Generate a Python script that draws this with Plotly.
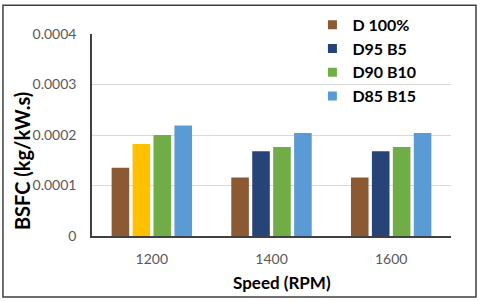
import plotly.graph_objects as go

speeds = ["1200", "1400", "1600"]
series_names = ["D 100%", "D95 B5", "D90 B10", "D85 B15"]
d100 = [0.000135, 0.000116, 0.000116]
d95b5 = [0.000182, 0.000168, 0.000168]
d90b10 = [0.000200, 0.000176, 0.000176]
d85b15 = [0.000219, 0.000204, 0.000204]
series_values = [d100, d95b5, d90b10, d85b15]
series_colors = ["#8B5A32", "#264478", "#70AD47", "#5B9BD5"]
# in the reference the D95 B5 bar at 1200 RPM is drawn in yellow
d95b5_bar_colors = ["#FFC000", "#264478", "#264478"]
x_title = "Speed (RPM)"
y_title = "BSFC (kg/kW.s)"

font_family = "Lato, 'Open Sans', sans-serif"

fig = go.Figure()
for i, (name, vals, col) in enumerate(zip(series_names, series_values, series_colors)):
    bar_col = d95b5_bar_colors if i == 1 else col
    fig.add_trace(go.Bar(x=speeds, y=vals, name=name, marker_color=bar_col,
                         marker_line_width=0, showlegend=False))
for name, col in zip(series_names, series_colors):
    fig.add_trace(go.Scatter(x=[None], y=[None], mode="markers", name=name,
                             marker=dict(symbol="square", size=9, color=col)))

fig.update_layout(
    width=480, height=301,
    margin=dict(l=92, r=29, t=34, b=65, autoexpand=False),
    paper_bgcolor="white", plot_bgcolor="white",
    barmode="group", bargap=0.3, bargroupgap=0.16,
    font=dict(family=font_family, color="#595959"),
    showlegend=True,
    legend=dict(x=0.614, y=1.13, xanchor="left", yanchor="top",
                bgcolor="rgba(0,0,0,0)", tracegroupgap=0,
                font=dict(size=16, color="#000000", family=font_family, weight="bold"),
                itemwidth=30),
    xaxis=dict(type="category", showline=True, linecolor="#404040", linewidth=2,
               automargin=False, ticklabelstandoff=9,
               ticks="", tickfont=dict(size=14, color="#595959")),
    yaxis=dict(range=[0, 0.0004], dtick=0.0001, tickformat=".4~f",
               automargin=False,
               showgrid=True, gridcolor="#D9D9D9", gridwidth=1,
               showline=True, linecolor="#404040", linewidth=1.5,
               zeroline=False, ticks="", ticklabelstandoff=11,
               tickfont=dict(size=14, color="#595959")),
    annotations=[
        dict(text=x_title, xref="paper", yref="paper", x=0.528, y=-0.232,
             xanchor="center", yanchor="middle", showarrow=False,
             font=dict(size=17, color="#000000", weight="bold")),
        dict(text=y_title, xref="paper", yref="paper", x=-0.195, y=0.371,
             xanchor="center", yanchor="middle", showarrow=False, textangle=-90,
             font=dict(size=20, color="#000000", weight="bold")),
    ],
    shapes=[dict(type="rect", xref="paper", yref="paper",
                 x0=-0.248, x1=1.0696, y0=-0.3015, y1=1.142,
                 line=dict(color="#404040", width=1.5), fillcolor="rgba(0,0,0,0)")],
)

fig.write_html("out.html", config={"displayModeBar": False},
               post_script="document.body.style.margin='0';document.body.style.overflow='hidden';")
